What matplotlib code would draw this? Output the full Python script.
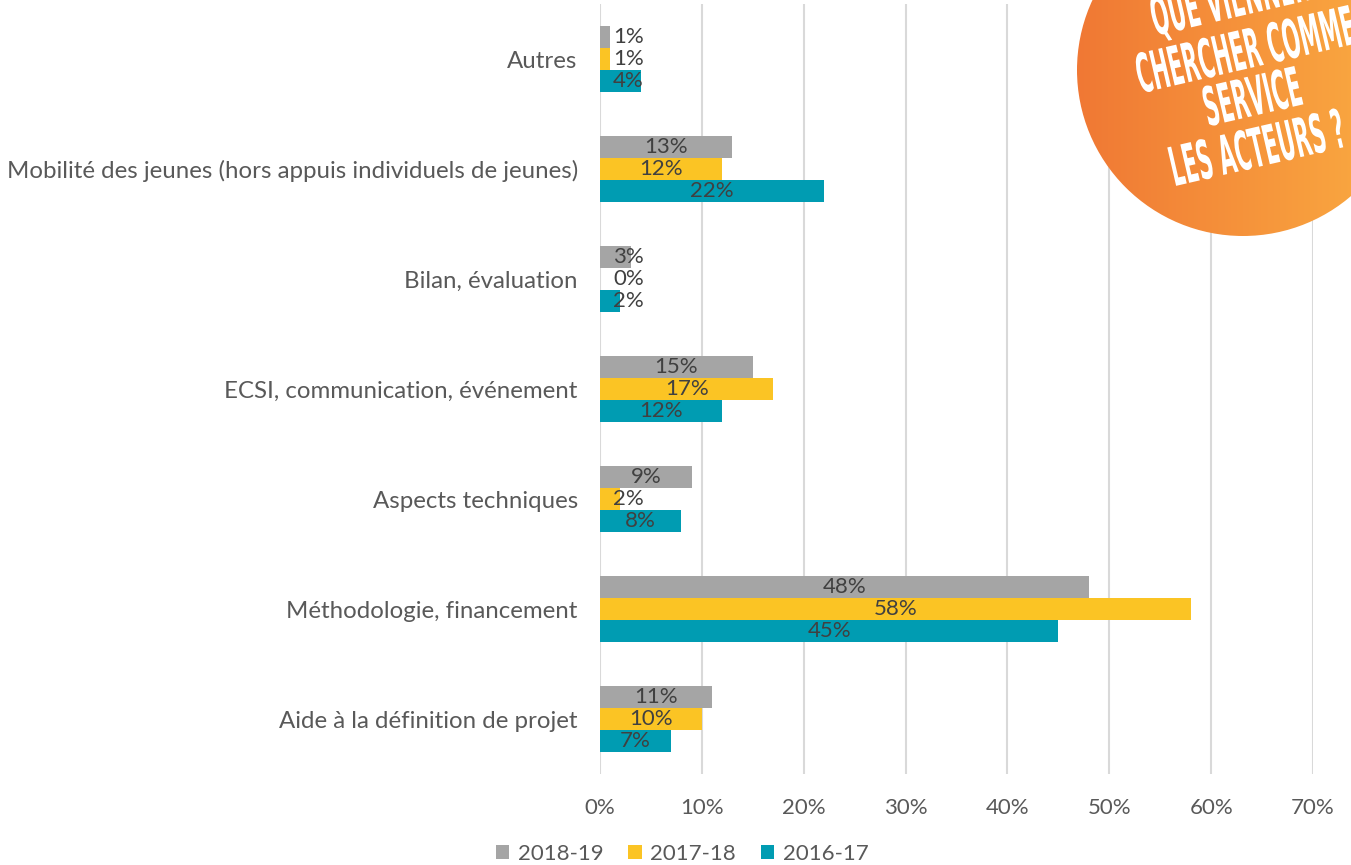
import matplotlib.pyplot as plt
import numpy as np
from matplotlib.patches import Circle, PathPatch
from matplotlib.textpath import TextPath
from matplotlib.font_manager import FontProperties
from matplotlib.transforms import Affine2D
from matplotlib.colors import LinearSegmentedColormap

categories = ['Aide à la définition de projet', 'Méthodologie, financement',
              'Aspects techniques', 'ECSI, communication, événement',
              'Bilan, évaluation',
              'Mobilité des jeunes (hors appuis individuels de jeunes)',
              'Autres']
series = ['2018-19', '2017-18', '2016-17']
v_2018 = [11, 48, 9, 15, 3, 13, 1]
v_2017 = [10, 58, 2, 17, 0, 12, 1]
v_2016 = [7, 45, 8, 12, 2, 22, 4]
colors = ['#A5A5A5', '#FBC424', '#009CB2']
badge_lines = ['QUE VIENNENT', 'CHERCHER COMME', 'SERVICE', 'LES ACTEURS ?']

plt.rcParams['font.family'] = ['Lato', 'DejaVu Sans']

fig = plt.figure(figsize=(13.51, 8.65), dpi=100)
ax = fig.add_axes([600 / 1351, 1 - 774 / 865, 713 / 1351, 770 / 865])

y = np.arange(len(categories))
h = 0.2
for off, vals, col, name in zip([h, 0, -h], [v_2018, v_2017, v_2016],
                                colors, series):
    ax.barh(y + off, vals, height=h, color=col, label=name, zorder=2)
    for yi, v in zip(y, vals):
        ax.text(max(v / 2, 2.8), yi + off, f'{v}%', ha='center',
                va='center', fontsize=16, color='#404040', zorder=3)

ax.set_xlim(0, 70)
ax.set_ylim(-0.5, 6.5)
ax.set_xticks(range(0, 71, 10))
ax.set_xticklabels([f'{t}%' for t in range(0, 71, 10)])
ax.set_yticks(y)
ax.set_yticklabels(categories)
ax.tick_params(axis='both', length=0, labelsize=16, colors='#595959')
ax.tick_params(axis='y', labelsize=17.3, pad=16)
ax.tick_params(axis='x', pad=17)
ax.grid(axis='x', color='#D9D9D9', linewidth=1.5, zorder=0)
for s in ax.spines.values():
    s.set_visible(False)

fig.legend(loc='lower center', ncol=3, frameon=False, fontsize=16,
           handlelength=0.6, handleheight=0.6, handletextpad=0.4,
           columnspacing=1.1, bbox_to_anchor=(0.505, -0.022),
           labelcolor='#595959')

# orange badge
ov = fig.add_axes([0, 0, 1, 1], zorder=5)
ov.set_xlim(0, 1351)
ov.set_ylim(865, 0)
ov.axis('off')
grad = np.linspace(0, 1, 256).reshape(1, -1)
cmap = LinearSegmentedColormap.from_list('badge', ['#F07834', '#FBAE42'])
im = ov.imshow(grad, cmap=cmap, extent=[1077, 1409, 236, -96],
               aspect='auto', zorder=1)
circ = Circle((1243, 70), 166, transform=ov.transData, facecolor='none',
              edgecolor='none')
ov.add_patch(circ)
im.set_clip_path(circ)

fp = FontProperties(family='DejaVu Sans', weight='bold')
centers = [(1238, 0), (1245, 49), (1252, 96), (1257, 147)]
for line, (cx, cy) in zip(badge_lines, centers):
    tp = TextPath((0, 0), line, size=60, prop=fp)
    bb = tp.get_extents()
    tr = (Affine2D().translate(-(bb.x0 + bb.x1) / 2, -(bb.y0 + bb.y1) / 2)
          .scale(0.35, -0.9).rotate_deg(-13).translate(cx, cy))
    ov.add_patch(PathPatch(tr.transform_path(tp), facecolor='white',
                           edgecolor='none', zorder=3))

fig.savefig('out.png', dpi=100)
